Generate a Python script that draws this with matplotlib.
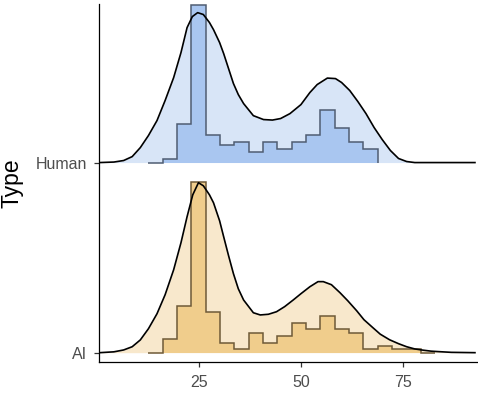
import numpy as np
import matplotlib
matplotlib.use("Agg")
import matplotlib.pyplot as plt

plt.rcParams['font.family'] = ['Liberation Sans', 'DejaVu Sans']

# ---------------- data ----------------
types = ["AI", "Human"]

bin_start = 12.47
bin_width = 3.524

human_counts = [0, 1, 11, 45, 8, 5, 6, 3, 6, 4, 6, 8, 15, 10, 6, 4]
ai_counts = [0, 4, 14, 51, 12, 3, 1, 6, 3, 5, 9, 7, 11, 7, 6, 1, 2, 1, 1, 0]

human_dens_x = [0.5, 4, 6.4, 8.5, 10.5, 12.5, 14.6, 16.6, 18.7, 20.5, 22.0, 23.3,
                24.6, 26, 27.5, 28.5, 30, 31, 32.2, 33.4, 34.6, 35.9, 38.3, 40.8,
                43, 45, 47.3, 50, 52.2, 54, 56.5, 58.5, 60, 62, 64, 66, 68, 70,
                72, 74, 76, 78, 93]
human_dens_y = [0, 0.0003, 0.0012, 0.0035, 0.0088, 0.0159, 0.0247, 0.0365, 0.0500,
                0.0647, 0.0794, 0.0859, 0.0882, 0.0871, 0.0824, 0.0782, 0.0706,
                0.0641, 0.0553, 0.0465, 0.0400, 0.0347, 0.0276, 0.0253, 0.0250,
                0.0259, 0.0288, 0.0341, 0.0412, 0.0459, 0.0497, 0.0494, 0.0471,
                0.0424, 0.0359, 0.0288, 0.0206, 0.0135, 0.0071, 0.0024, 0.0006,
                0, 0]

ai_dens_x = [0.5, 4, 6.4, 8.5, 10.5, 12.5, 14.6, 16.6, 18.7, 20.5, 22.0, 23.4, 24.8,
             26, 27.5, 28.5, 30, 31, 32.2, 33.4, 34.6, 35.9, 38.3, 40, 42, 44, 46,
             48.1, 50, 52.2, 54.2, 55.5, 57.5, 59.6, 61.5, 63.7, 65.5, 67.7, 69.5,
             71.8, 74, 76, 78, 80, 82, 84, 87, 90, 93]
ai_dens_y = [0, 0.0005, 0.0016, 0.0035, 0.0075, 0.0141, 0.0229, 0.0341, 0.0488,
             0.0647, 0.0800, 0.0929, 0.1000, 0.0982, 0.0929, 0.0882, 0.0776, 0.0682,
             0.0571, 0.0465, 0.0376, 0.0310, 0.0235, 0.0222, 0.0226, 0.0241, 0.0271,
             0.0310, 0.0347, 0.0388, 0.0418, 0.0418, 0.0400, 0.0353, 0.0306, 0.0247,
             0.0194, 0.0147, 0.0109, 0.0076, 0.0053, 0.0035, 0.0022, 0.0015, 0.0009,
             0.0006, 0.0002, 0.0001, 0]

# ---------------- style ----------------
W, H = 478, 394
fig = plt.figure(figsize=(W / 100, H / 100), dpi=100)
left, right, top, bottom = 99, 477, 4, 362
ax = fig.add_axes([left / W, (H - bottom) / H, (right - left) / W, (bottom - top) / H])

scale = 8.94  # ridge units per density unit

series = [
    dict(base=1, counts=human_counts, dx=human_dens_x, dy=human_dens_y,
         light='#d8e5f7', dark='#a9c6f0', edge='#4f5d72'),
    dict(base=0, counts=ai_counts, dx=ai_dens_x, dy=ai_dens_y,
         light='#f8e8cc', dark='#f0cd8c', edge='#6e5a38'),
]

for s in series:
    base = s['base']
    dx = np.array(s['dx'])
    dy = base + scale * np.array(s['dy'])
    counts = np.array(s['counts'], dtype=float)
    n = counts.sum()
    edges = bin_start + bin_width * np.arange(len(counts) + 1)
    dens = counts / (n * bin_width)
    ax.fill_between(dx, base, dy, color=s['light'], lw=0, zorder=1)
    ax.stairs(base + scale * dens, edges, baseline=base, fill=True,
              color=s['dark'], lw=0, zorder=2, clip_on=False)
    ax.stairs(base + scale * dens, edges, baseline=base, fill=False,
              color=s['edge'], lw=1.1, zorder=3, clip_on=False)
    ax.plot(dx, dy, color='black', lw=1.2, zorder=4, solid_capstyle='butt',
            solid_joinstyle='round')

ax.set_xlim(0.34, 93.3)
ax.set_ylim(-0.049, 1.834)

ax.set_xticks([25, 50, 75])
ax.set_yticks([0, 1])
ax.set_yticklabels(types)
ax.set_ylabel("Type", fontsize=16.5, color='black', labelpad=9)

for sp in ['top', 'right']:
    ax.spines[sp].set_visible(False)
for sp in ['left', 'bottom']:
    ax.spines[sp].set_linewidth(0.9)
    ax.spines[sp].set_color('black')

ax.tick_params(axis='both', length=3.5, width=0.9, color='#333333',
               labelsize=11.5, labelcolor='#4d4d4d')
ax.tick_params(axis='x', pad=6)
ax.tick_params(axis='y', pad=5)

fig.savefig("out.png", dpi=100)
